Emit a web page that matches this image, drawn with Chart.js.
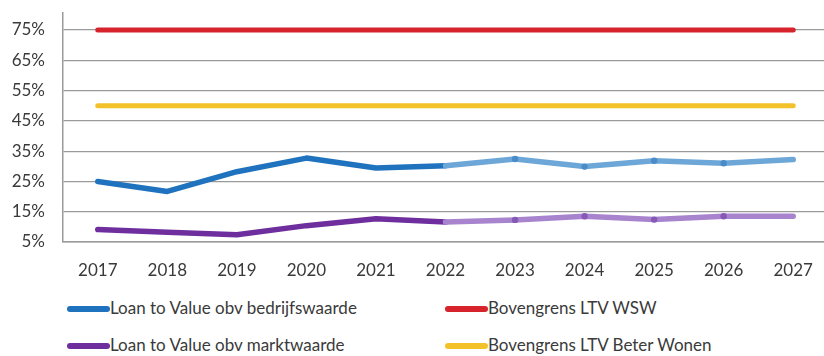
<!DOCTYPE html>
<html>
<head>
<meta charset="utf-8">
<script src="https://cdn.jsdelivr.net/npm/chart.js@4.4.1/dist/chart.umd.min.js"></script>
<style>
  html, body { margin:0; padding:0; background:#fff; overflow:hidden; width:824px; height:356px; }
  #wrap { position:relative; width:824px; height:356px; overflow:hidden; }
  #c { position:absolute; left:0; top:0; }
  .leg { position:absolute; font-family: Lato, "Liberation Sans", sans-serif; font-size:17px; color:#3a3a3a; white-space:nowrap; line-height:20px; }
  .sw { position:absolute; height:6px; border-radius:3px; }
</style>
</head>
<body>
<div id="wrap">
  <canvas id="c" width="830" height="290"></canvas>
  <div id="legend"></div>
</div>
<script>
const years = ['2017','2018','2019','2020','2021','2022','2023','2024','2025','2026','2027'];
const ltvBedrijfswaarde = [25.0, 21.7, 28.2, 32.7, 29.4, 30.2, 32.4, 29.9, 31.8, 31.0, 32.2];
const ltvMarktwaarde   = [9.1, 8.2, 7.4, 10.4, 12.7, 11.6, 12.3, 13.5, 12.4, 13.5, 13.5];
const grensWSW         = [75, 75, 75, 75, 75, 75, 75, 75, 75, 75, 75];
const grensBeterWonen  = [50, 50, 50, 50, 50, 50, 50, 50, 50, 50, 50];
const yTicks = [5, 15, 25, 35, 45, 55, 65, 75];
const seriesNames = ['Loan to Value obv bedrijfswaarde', 'Bovengrens LTV WSW', 'Loan to Value obv marktwaarde', 'Bovengrens LTV Beter Wonen'];
const lastActualIndex = 5; // 2022: from here on the lines are lighter (prognose)

const C = {
  blue: '#1F72BD', blueLight: '#6DA7D8', blueDot: '#4A8CC8',
  purple: '#6E2E9E', purpleLight: '#A884CF', purpleDot: '#8659B6',
  red: '#D7232B', yellow: '#F3C22B', text: '#3a3a3a', grid: '#9a9a9a'
};

function dotRadius(i) { return (i > lastActualIndex && i < years.length - 1) ? 3.2 : 0; }

const ctx = document.getElementById('c').getContext('2d');
new Chart(ctx, {
  type: 'line',
  data: {
    labels: years,
    datasets: [
      { label: seriesNames[1], data: grensWSW, borderColor: C.red, borderWidth: 5, pointRadius: 0, borderCapStyle: 'round', tension: 0 },
      { label: seriesNames[3], data: grensBeterWonen, borderColor: C.yellow, borderWidth: 5, pointRadius: 0, borderCapStyle: 'round', tension: 0 },
      { label: seriesNames[0], data: ltvBedrijfswaarde, borderColor: C.blue, borderWidth: 5.5, borderCapStyle: 'round', borderJoinStyle: 'round', tension: 0,
        pointRadius: years.map((_, i) => dotRadius(i)), pointBackgroundColor: C.blueDot, pointBorderWidth: 0,
        segment: { borderColor: s => s.p0DataIndex >= lastActualIndex ? C.blueLight : C.blue } },
      { label: seriesNames[2], data: ltvMarktwaarde, borderColor: C.purple, borderWidth: 5.5, borderCapStyle: 'round', borderJoinStyle: 'round', tension: 0,
        pointRadius: years.map((_, i) => dotRadius(i)), pointBackgroundColor: C.purpleDot, pointBorderWidth: 0,
        segment: { borderColor: s => s.p0DataIndex >= lastActualIndex ? C.purpleLight : C.purple } }
    ]
  },
  options: {
    responsive: false,
    animation: false,
    devicePixelRatio: 1,
    layout: { padding: { top: 13, right: 2, left: 0, bottom: 0 } },
    plugins: { legend: { display: false }, tooltip: { enabled: false } },
    scales: {
      x: {
        offset: true,
        grid: { display: false, drawTicks: false },
        border: { display: true, color: C.grid, width: 1.5 },
        ticks: { padding: 18, color: C.text, font: { family: 'Lato', size: 17 }, maxRotation: 0 },
        afterFit: s => { s.height = 48; s.paddingLeft = 0; s.paddingRight = 0; }
      },
      y: {
        min: 5, max: 80.6,
        grid: { color: C.grid, lineWidth: 1.2, drawTicks: false },
        border: { display: true, color: C.grid, width: 1.5 },
        ticks: { padding: 18, color: C.text, font: { family: 'Lato', size: 17 }, callback: v => v + '%' },
        afterBuildTicks: s => { s.ticks = yTicks.map(v => ({ value: v })); },
        afterFit: s => { s.width = 63; s.paddingTop = 0; s.paddingBottom = 0; }
      }
    }
  }
});

// HTML legend (two columns, two rows)
const legendItems = [
  { name: seriesNames[0], color: C.blue,   x: 67,  y: 309 },
  { name: seriesNames[1], color: C.red,    x: 445, y: 309 },
  { name: seriesNames[2], color: C.purple, x: 67,  y: 346 },
  { name: seriesNames[3], color: C.yellow, x: 445, y: 346 }
];
const lg = document.getElementById('legend');
legendItems.forEach(it => {
  const sw = document.createElement('div');
  sw.className = 'sw';
  sw.style.left = it.x + 'px'; sw.style.top = (it.y - 3) + 'px'; sw.style.width = '43px';
  sw.style.background = it.color;
  lg.appendChild(sw);
  const t = document.createElement('div');
  t.className = 'leg';
  t.textContent = it.name;
  t.style.left = (it.x + 43) + 'px'; t.style.top = (it.y - 11) + 'px';
  lg.appendChild(t);
});
</script>
</body>
</html>
